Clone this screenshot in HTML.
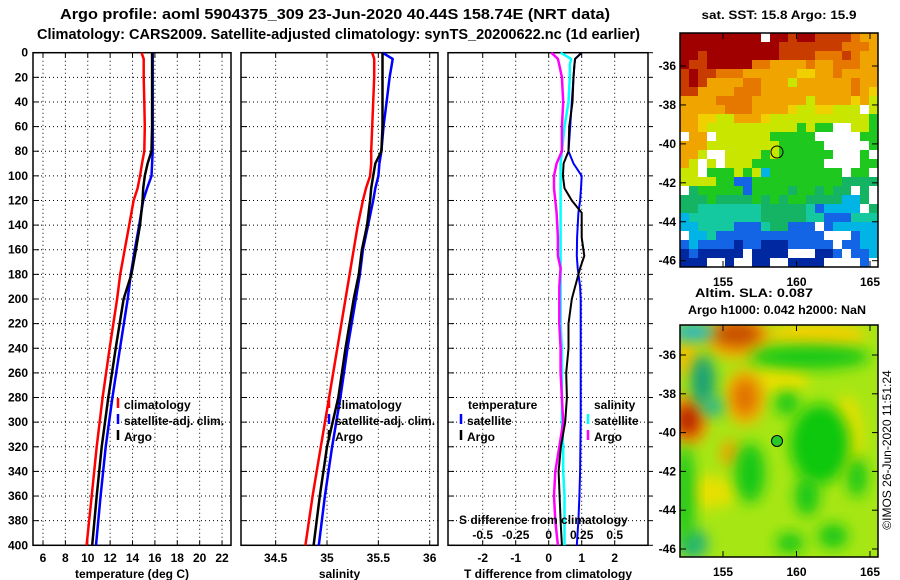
<!DOCTYPE html>
<html><head><meta charset="utf-8"><style>
html,body{margin:0;padding:0;background:#fff;}
svg{display:block;font-family:"Liberation Sans",Arial,sans-serif;}
.b{font-weight:bold;font-size:12px;fill:#000;}
.t{font-weight:bold;font-size:14.5px;fill:#000;}
</style></head><body>
<svg id="fig" width="900" height="580" viewBox="0 0 900 580" xmlns="http://www.w3.org/2000/svg">
<defs><filter id="blur" x="-50%" y="-50%" width="200%" height="200%"><feGaussianBlur stdDeviation="7"/></filter>
<clipPath id="clipTop"><rect x="680" y="33" width="198" height="234"/></clipPath>
<clipPath id="clipBot"><rect x="680" y="325" width="198" height="232"/></clipPath></defs>
<text class="t" x="60" y="19" textLength="550" lengthAdjust="spacingAndGlyphs">Argo profile: aoml 5904375_309 23-Jun-2020 40.44S 158.74E (NRT data)</text>
<text class="t" x="37" y="39" textLength="603" lengthAdjust="spacingAndGlyphs">Climatology: CARS2009. Satellite-adjusted climatology: synTS_20200622.nc (1d earlier)</text>
<g id="panels"></g>
<g id="maps"></g>
<text x="891" y="450" font-size="12" text-anchor="middle" transform="rotate(-90 891 450)">©IMOS 26-Jun-2020 11:51:24</text>
</svg>
<script>
const depths=[0,5,10,20,40,60,80,90,100,110,120,140,160,180,200,240,280,320,360,400];
const tempClim=[14.8,15.0,15.0,15.0,15.05,15.1,15.05,14.85,14.67,14.45,14.1,13.7,13.3,12.9,12.62,11.95,11.33,10.8,10.35,9.9];
const tempSat=[15.8,15.8,15.8,15.8,15.8,15.8,15.8,15.75,15.7,15.3,14.95,14.6,14.2,13.85,13.57,12.88,12.2,11.6,11.15,10.74];
const tempArgo=[15.75,15.75,15.75,15.75,15.75,15.75,15.7,15.35,15.1,14.95,14.9,14.67,14.3,13.9,13.2,12.5,11.84,11.25,10.8,10.4];
const salClim=[35.44,35.46,35.46,35.46,35.45,35.44,35.43,35.43,35.42,35.38,35.35,35.30,35.26,35.22,35.18,35.10,35.02,34.94,34.86,34.79];
const salSat=[35.54,35.64,35.63,35.61,35.58,35.55,35.53,35.51,35.5,35.47,35.45,35.4,35.35,35.32,35.28,35.2,35.13,35.05,34.98,34.92];
const salArgo=[35.54,35.54,35.54,35.54,35.54,35.54,35.53,35.47,35.45,35.43,35.42,35.39,35.34,35.31,35.26,35.18,35.11,35.0,34.93,34.87];
const diffDepths=[0,5,10,20,40,60,80,90,100,110,120,130,150,165,175,190,200,220,240,260,280,300,320,340,360,380,400];
const dTArgo=[1.0,0.8,0.78,0.75,0.72,0.62,0.6,0.45,0.43,0.48,0.7,1.0,1.0,1.08,0.95,0.8,0.7,0.6,0.6,0.53,0.55,0.5,0.37,0.3,0.33,0.36,0.4];
const dTSat=[1.0,0.8,0.78,0.75,0.7,0.65,0.6,0.75,1.0,0.98,0.95,0.9,0.86,0.85,0.88,0.95,0.97,0.97,0.97,0.97,0.97,0.97,0.96,0.95,0.93,0.9,0.85];
const dSArgo=[0.02,0.07,0.08,0.1,0.11,0.1,0.1,0.06,0.04,0.04,0.05,0.06,0.07,0.07,0.09,0.08,0.08,0.08,0.09,0.09,0.1,0.11,0.08,0.05,0.04,0.05,0.07];
const dSSat=[0.09,0.17,0.16,0.16,0.15,0.12,0.1,0.09,0.09,0.09,0.09,0.09,0.09,0.09,0.09,0.09,0.09,0.09,0.1,0.1,0.1,0.1,0.11,0.11,0.12,0.12,0.12];
const depthTicks=[0,20,40,60,80,100,120,140,160,180,200,220,240,260,280,300,320,340,360,380,400];
const tempTicks=[6,8,10,12,14,16,18,20,22];
const salTicks=[34.5,35,35.5,36];
const dTTicks=[-2,-1,0,1,2];
const dSTicks=[-0.5,-0.25,0,0.25,0.5];
const dSTickLabels=["-0.5","-0.25","0","0.25","0.5"];
const lonTicks=[155,160,165];
const latTicks=[-36,-38,-40,-42,-44,-46];

const NS="http://www.w3.org/2000/svg";
function mk(tag,attrs,parent){const e=document.createElementNS(NS,tag);for(const k in attrs)e.setAttribute(k,attrs[k]);parent.appendChild(e);return e;}
const P=document.getElementById('panels');
const Y0=52.7,YS=1.2315;
const yD=d=>Y0+d*YS;
const panels=[
 {x0:33,x1:231,fx:v=>43+(v-6)*11.19,ticks:tempTicks,name:'temperature-panel',title:'temperature (deg C)'},
 {x0:241,x1:438,fx:v=>327+(v-35)*102.7,ticks:salTicks,name:'salinity-panel',title:'salinity'},
 {x0:448,x1:648,fx:v=>548.7+v*33,ticks:dTTicks,name:'difference-panel',title:'T difference from climatology'}
];
const fS=v=>548.7+v*132;
panels.forEach((p,pi)=>{
 const g=mk('g',{},P);
 
 
 depthTicks.forEach(d=>{const l=mk('line',{x1:p.x0,x2:p.x1,y1:yD(d),y2:yD(d),stroke:'#000','stroke-width':1,'stroke-dasharray':'1 3'},g);
  
  mk('line',{x1:p.x0,x2:p.x0+6,y1:yD(d),y2:yD(d),stroke:'#000','stroke-width':1},g);
  if(pi==2)mk('line',{x1:p.x1,x2:p.x1+5,y1:yD(d),y2:yD(d),stroke:'#000','stroke-width':1},g);
 });
 p.ticks.forEach((v,i)=>{const x=p.fx(v);
  const l=mk('line',{x1:x,x2:x,y1:Y0,y2:yD(400),stroke:'#000','stroke-width':1,'stroke-dasharray':'1 3'},g);
  
  mk('line',{x1:x,x2:x,y1:Y0,y2:Y0+5,stroke:'#000','stroke-width':1},g);
  mk('line',{x1:x,x2:x,y1:yD(400)-5,y2:yD(400),stroke:'#000','stroke-width':1},g);
  const t=mk('text',{x:x,y:562,'text-anchor':'middle',class:'b'},g);t.textContent=String(v);
  
 });
 const r=mk('rect',{x:p.x0,y:Y0,width:p.x1-p.x0,height:yD(400)-Y0,fill:'none',stroke:'#000','stroke-width':1.5},g);
 
 const tt=mk('text',{x:(p.x0+p.x1)/2,y:578,'text-anchor':'middle',class:'b'},g);tt.textContent=p.title;
 
});
depthTicks.forEach(d=>{const t=mk('text',{x:28,y:yD(d)+4,'text-anchor':'end',class:'b'},P);t.textContent=String(d);
 });
function line(xs,ds,fx,color,w,name){
 const pts=xs.map((v,i)=>fx(v).toFixed(1)+','+yD(ds[i]).toFixed(1)).join(' ');
 const l=mk('polyline',{points:pts,fill:'none',stroke:color,'stroke-width':w,'stroke-linejoin':'round'},P);
 
}
const fT=panels[0].fx,fSal=panels[1].fx,fdT=panels[2].fx;
line(tempClim,depths,fT,'#ff0000',2.5,'temperature-climatology-line');
line(tempSat,depths,fT,'#0000ff',2.5,'temperature-satellite-line');
line(tempArgo,depths,fT,'#000',2.5,'temperature-argo-line');
line(salClim,depths,fSal,'#ff0000',2.5,'salinity-climatology-line');
line(salSat,depths,fSal,'#0000ff',2.5,'salinity-satellite-line');
line(salArgo,depths,fSal,'#000',2.5,'salinity-argo-line');
line(dSSat,diffDepths,fS,'#00ffff',2.5,'salinity-diff-satellite-line');
line(dSArgo,diffDepths,fS,'#ff00ff',2.5,'salinity-diff-argo-line');
line(dTSat,diffDepths,fdT,'#0000ff',2,'temperature-diff-satellite-line');
line(dTArgo,diffDepths,fdT,'#000',2,'temperature-diff-argo-line');
function leg(x,y,color,label,name){
 mk('line',{x1:x,x2:x,y1:y-11,y2:y-1,stroke:color,'stroke-width':2.5},P);
 const t=mk('text',{x:x+6,y:y,class:'b'},P);t.textContent=label;
 
}
leg(118,409,'#ff0000','climatology','legend-climatology');
leg(118,425,'#0000ff','satellite-adj. clim.','legend-satellite-adj');
leg(118,441,'#000','Argo','legend-argo');
leg(329,409,'#ff0000','climatology','legend-climatology-2');
leg(329,425,'#0000ff','satellite-adj. clim.','legend-satellite-adj-2');
leg(329,441,'#000','Argo','legend-argo-2');
let tt=mk('text',{x:468,y:409,class:'b'},P);tt.textContent='temperature';

tt=mk('text',{x:594,y:409,class:'b'},P);tt.textContent='salinity';

leg(461,425,'#0000ff','satellite','legend-t-satellite');
leg(461,441,'#000','Argo','legend-t-argo');
leg(588,425,'#00ffff','satellite','legend-s-satellite');
leg(588,441,'#ff00ff','Argo','legend-s-argo');
tt=mk('text',{x:459,y:524,class:'b'},P);tt.textContent='S difference from climatology';

dSTicks.forEach((v,i)=>{const t=mk('text',{x:fS(v),y:539,'text-anchor':'middle',class:'b'},P);t.textContent=dSTickLabels[i];
 });

// maps
const M=document.getElementById('maps');
const fLon=lon=>723+(lon-155)*14.7;
const sstRows=["RRRRRRRRRwRRrRRrrrroOO","RRRRRRRRRRRrrrrrrroooO","RRrRRRRRRRRrrrroooroOO","RrrRRRRRooOOOOoOOoooOO","rRrroooOOOOOOyyOOoOOOO","rRrOOOOooOOOYOOOOOOoOO","rrOOOOoooOOOOOOOOOOoOy","OOOOooooOOOOOOYOOOOyOY","OOOOOoooOOOOyYYyyYYYwY","OOyyYYOOOyYYYYYYYYYYYG","OOyYYYYYYYYYYGYGGwwYYG","wOOwYYYYYYGGGGGwwwwwGG","OOOYYYYYYYYGGGGGwwwwwG","OOYwwYYYYGYGGGGGGwwwGw","OYwYwYYYGGGGGGGGwwwwGG","YYwGGGYGYCGGGGGGGGwGGw","YYYYGGbbGGGGGGGGGGtttt","wtGGGGGbGGGGtGGtGttwtw","tttGttttGtGtGGttttCCtw","ttccccccctttttcbCCCCwt","Ccccccccctttttccbbbccc","CCccccbbbcttbbbwbCCCCC","wCCcbbbbbbbbbbbbwwwbCC","bCbbbbBbbBBBbbbbbwbbCC","BbBBBBBwBBBBwwwBBbwbbC","BBBwwBwwBBwwBBBBwwwwbw"];
const pal={R:'#a00000',r:'#c83c00',o:'#e67800',O:'#f0a400',y:'#f0d000',Y:'#c8e600',g:'#96e600',G:'#1ec81e',t:'#14b464',c:'#14c8a0',C:'#00b4e6',b:'#1464e6',B:'#0028a0',w:'#ffffff'};
const gTop=mk('g',{'clip-path':'url(#clipTop)'},M);

const cw=198/22,ch=234/26;
sstRows.forEach((row,ri)=>{for(let ci=0;ci<22;ci++){const c=row[ci]||'w';
 mk('rect',{x:680+ci*cw,y:33+ri*ch,width:cw+0.6,height:ch+0.6,fill:pal[c]},gTop);}});
mk('circle',{cx:777,cy:152,r:6,fill:'none',stroke:'#000','stroke-width':1},M);
const gBot=mk('g',{'clip-path':'url(#clipBot)'},M);

mk('rect',{x:680,y:325,width:198,height:232,fill:'#a6e614'},gBot);
const blobs=[[137,11,50,14,'#f0d000'],[100,54,28,16,'#e8e000'],[167,111,16,40,'#e6e000'],[30,167,28,16,'#e6e000'],
[57,12,34,22,'#f0b000'],[57,9,24,13,'#c85000'],[65,72,20,28,'#f0b400'],[65,72,12,18,'#e07000'],
[8,95,20,26,'#f0a000'],[8,95,12,16,'#b82000'],[7,33,12,20,'#f0c000'],[50,128,9,13,'#f0a000'],
[13,7,22,9,'#28b4c8'],[23,56,12,26,'#14a078'],[33,82,10,10,'#28b496'],[130,32,60,12,'#14c814'],
[107,78,12,12,'#14c814'],[140,119,30,40,'#10c810'],[70,148,15,30,'#14c814'],[127,171,12,20,'#14c814'],
[177,152,10,20,'#14c814'],[13,219,15,15,'#28b478'],[153,211,15,12,'#14c814'],[5,170,10,50,'#1ec81e'],[110,218,14,10,'#14c814']];
blobs.forEach(b=>{const e=mk('ellipse',{cx:680+b[0],cy:325+b[1],rx:b[2],ry:b[3],fill:b[4],filter:'url(#blur)'},gBot);});
mk('circle',{cx:777,cy:441,r:5.5,fill:'#28c828',stroke:'#000','stroke-width':1},M);
[[33,267,66,19.47],[325,557,355,19.4]].forEach((m,mi)=>{
 mk('rect',{x:680,y:m[0],width:198,height:m[1]-m[0],fill:'none',stroke:'#000','stroke-width':1.5},M);
 latTicks.forEach(lat=>{const y=m[2]+(-36-lat)*m[3];
  mk('line',{x1:680,x2:686,y1:y,y2:y,stroke:'#000'},M);mk('line',{x1:872,x2:878,y1:y,y2:y,stroke:'#000'},M);
  const t=mk('text',{x:676,y:y+4,'text-anchor':'end',class:'b'},M);t.textContent=String(lat);
  });
 lonTicks.forEach(lon=>{const x=fLon(lon);
  mk('line',{x1:x,x2:x,y1:m[1]-6,y2:m[1],stroke:'#000'},M);mk('line',{x1:x,x2:x,y1:m[0],y2:m[0]+6,stroke:'#000'},M);
  const t=mk('text',{x:x,y:m[1]+19,'text-anchor':'middle',class:'b'},M);t.textContent=String(lon);
  });
});
function mt(x,y,s,name,len){const t=mk('text',{x:x,y:y,'text-anchor':'middle',class:'b'},M);t.textContent=s;
 if(len){t.setAttribute('textLength',len);t.setAttribute('lengthAdjust','spacingAndGlyphs');}
 }
mt(779,19,'sat. SST: 15.8 Argo: 15.9','sst-map-title',155);
mt(754,297,'Altim. SLA: 0.087','sla-map-title',118);
mt(777,314,'Argo h1000: 0.042 h2000: NaN','argo-height-label',178);
</script>
</body></html>
